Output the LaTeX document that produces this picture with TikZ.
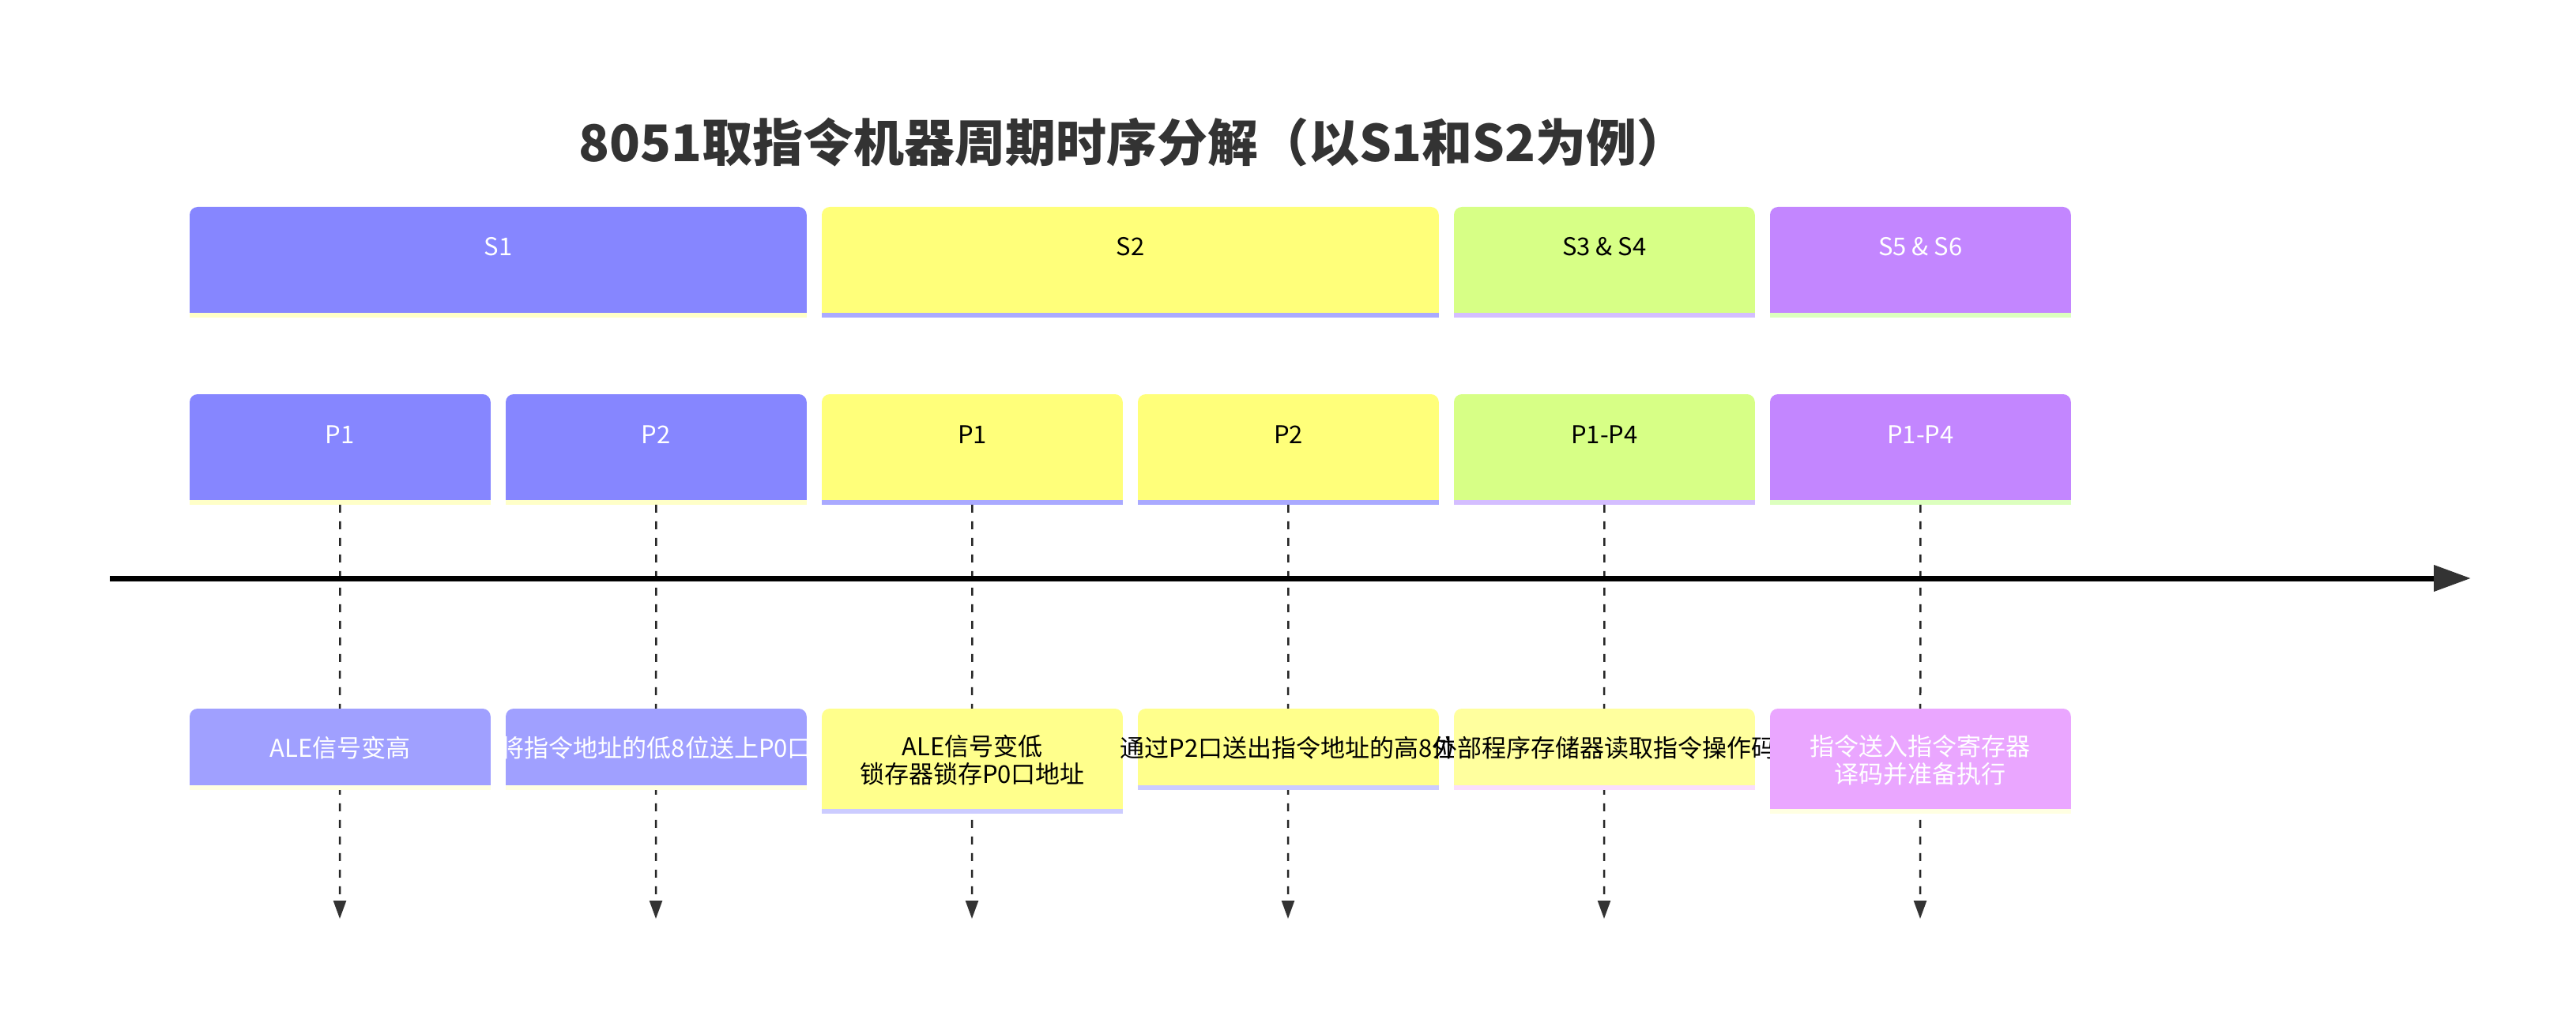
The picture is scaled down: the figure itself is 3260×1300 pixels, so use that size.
\documentclass[tikz,border=0pt]{standalone}
\usepackage{fontspec}
\setmainfont{Noto Sans CJK SC}
\usetikzlibrary{arrows.meta}
\definecolor{titlec}{HTML}{333333}
\definecolor{tipc}{HTML}{333333}
\definecolor{cBlue}{RGB}{134,134,255}
\definecolor{cBlueStrip}{RGB}{255,255,200}
\definecolor{cYel}{RGB}{255,255,122}
\definecolor{cYelStrip}{RGB}{170,170,255}
\definecolor{cGrn}{RGB}{215,255,134}
\definecolor{cGrnStrip}{RGB}{212,190,255}
\definecolor{cPur}{RGB}{195,134,255}
\definecolor{cPurStrip}{RGB}{220,255,190}
\definecolor{eBlue}{RGB}{160,160,255}
\definecolor{eBlueStrip}{RGB}{255,255,226}
\definecolor{eYel}{RGB}{255,255,140}
\definecolor{eYelStrip}{RGB}{204,204,255}
\definecolor{eYel2}{RGB}{255,255,158}
\definecolor{eYel2Strip}{RGB}{250,222,252}
\definecolor{ePink}{RGB}{234,166,255}
\definecolor{ePinkStrip}{RGB}{255,255,226}
\newcommand\tlbox[7]{%
  \node[boxs, minimum width=#4*0.5pt, minimum height=#5*0.5pt, anchor=north west] (#1) at (#2,#3) {};
  \fill[#6] (#1.south west) -- ([yshift=-5pt]#1.north west)
     arc[start angle=180, end angle=90, radius=5pt]
     -- ([xshift=-5pt]#1.north east)
     arc[start angle=90, end angle=0, radius=5pt]
     -- (#1.south east) -- cycle;
  \fill[#7] (#1.south west) rectangle ([yshift=-3pt]#1.south east);
}
\tikzset{
  boxs/.style={rectangle, inner sep=0pt, draw=none},
  lbl/.style={font=\fontsize{15.5pt}{17.5pt}\selectfont, inner sep=0pt, align=center},
  vline/.style={draw=black!85, line width=1.25pt, dash pattern=on 5pt off 5.5pt,
    -{Triangle[length=11.5pt,width=8pt,color=tipc]}},
}
\begin{document}
\begin{tikzpicture}[x=0.5pt,y=-0.5pt]
\useasboundingbox[fill=white] (0,0) rectangle (3260,1300);
% title
\node[font=\fontsize{32pt}{36pt}\selectfont\bfseries, text=titlec, inner sep=0pt] (title) at (1434,180) {8051取指令机器周期时序分解（以S1和S2为例）};
% section row
\tlbox{s1}{240}{262}{780}{133}{cBlue}{cBlueStrip}
\node[lbl, text=white] (s1t) at ([yshift=-25pt]s1.north) {S1};
\tlbox{s2}{1040}{262}{780}{133}{cYel}{cYelStrip}
\node[lbl, text=black] (s2t) at ([yshift=-25pt]s2.north) {S2};
\tlbox{s34}{1840}{262}{380}{133}{cGrn}{cGrnStrip}
\node[lbl, text=black] (s34t) at ([yshift=-25pt]s34.north) {S3 \& S4};
\tlbox{s56}{2240}{262}{380}{133}{cPur}{cPurStrip}
\node[lbl, text=white] (s56t) at ([yshift=-25pt]s56.north) {S5 \& S6};
% phase row
\tlbox{p1}{240}{499}{380}{133}{cBlue}{cBlueStrip}
\node[lbl, text=white] (p1t) at ([yshift=-25.5pt]p1.north) {P1};
\tlbox{p2}{640}{499}{380}{133}{cBlue}{cBlueStrip}
\node[lbl, text=white] (p2t) at ([yshift=-25.5pt]p2.north) {P2};
\tlbox{p3}{1040}{499}{380}{133}{cYel}{cYelStrip}
\node[lbl, text=black] (p3t) at ([yshift=-25.5pt]p3.north) {P1};
\tlbox{p4}{1440}{499}{380}{133}{cYel}{cYelStrip}
\node[lbl, text=black] (p4t) at ([yshift=-25.5pt]p4.north) {P2};
\tlbox{p5}{1840}{499}{380}{133}{cGrn}{cGrnStrip}
\node[lbl, text=black] (p5t) at ([yshift=-25.5pt]p5.north) {P1-P4};
\tlbox{p6}{2240}{499}{380}{133}{cPur}{cPurStrip}
\node[lbl, text=white] (p6t) at ([yshift=-25.5pt]p6.north) {P1-P4};
% dashed connectors
\coordinate (e1) at (430,1163);
\coordinate (e2) at (830,1163);
\coordinate (e3) at (1230,1163);
\coordinate (e4) at (1630,1163);
\coordinate (e5) at (2030,1163);
\coordinate (e6) at (2430,1163);
\foreach \i in {1,...,6}{
  \draw[vline] ([yshift=-3pt]p\i.south) -- (e\i);
}
% time axis
\coordinate (ax0) at (139,732);
\coordinate (ax1) at (3127,732);
\draw[line width=3.5pt, draw=black, -{Triangle[length=23.5pt,width=16pt,color=tipc]}] (ax0) -- (ax1);
% event row
\tlbox{ev1}{240}{897}{380}{96}{eBlue}{eBlueStrip}
\node[lbl, text=white] (ev1t) at ([yshift=-25pt]ev1.north) {ALE信号变高};
\tlbox{ev2}{640}{897}{380}{96}{eBlue}{eBlueStrip}
\node[lbl, text=white] (ev2t) at ([yshift=-25pt]ev2.north) {将指令地址的低8位送上P0口};
\tlbox{ev3}{1040}{897}{380}{126}{eYel}{eYelStrip}
\node[lbl, text=black] (ev3t) at ([yshift=-32.5pt]ev3.north) {ALE信号变低\\锁存器锁存P0口地址};
\tlbox{ev4}{1440}{897}{380}{96}{eYel}{eYelStrip}
\node[lbl, text=black] (ev4t) at ([yshift=-25pt]ev4.north) {通过P2口送出指令地址的高8位};
\tlbox{ev5}{1840}{897}{380}{96}{eYel2}{eYel2Strip}
\node[lbl, text=black] (ev5t) at ([yshift=-25pt]ev5.north) {外部程序存储器读取指令操作码};
\tlbox{ev6}{2240}{897}{380}{126}{ePink}{ePinkStrip}
\node[lbl, text=white] (ev6t) at ([yshift=-32.5pt]ev6.north) {指令送入指令寄存器\\译码并准备执行};
\end{tikzpicture}
\end{document}
